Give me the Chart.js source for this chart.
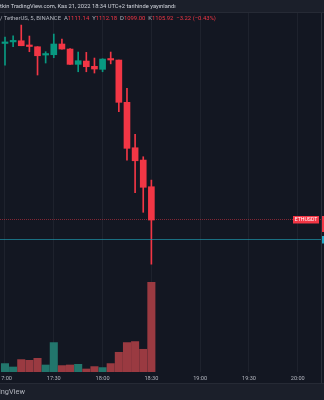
<!DOCTYPE html>
<html><head><meta charset="utf-8">
<script src="https://cdn.jsdelivr.net/npm/chart.js@4.4.1/dist/chart.umd.min.js"></script>
<style>
html,body{margin:0;padding:0;background:#131722;width:324px;height:400px;overflow:hidden;font-family:Roboto,'Open Sans',sans-serif;}
#topband{position:absolute;left:0;top:0;width:324px;height:12px;background:#1b1f2a;border-bottom:1px solid #262a35;}
#botband{position:absolute;left:0;top:383px;width:324px;height:17px;background:#1b1f2a;border-top:1px solid #262a35;}
#wrap{position:absolute;left:0;top:0;width:324px;height:400px;}
.t{position:absolute;white-space:nowrap;z-index:3;line-height:1;}
.r{color:#f23645;}
</style></head>
<body>
<div id="topband"></div>
<div id="botband"></div>
<div id="wrap"><canvas id="c" width="324" height="400"></canvas></div>
<div class="t" style="left:0;top:4px;font-size:5.75px;color:#d1d4dc">tkin TradingView.com, Kas 21, 2022 18:34 UTC+2 tarihinde yayınlandı</div>
<div class="t" style="left:0;top:16.3px;font-size:5.9px;color:#b2b5be">/ TetherUS, 5, BINANCE&nbsp;&nbsp;A<span class="r">1111.14</span>&nbsp;&nbsp;Y<span class="r">1112.18</span>&nbsp;&nbsp;D<span class="r">1099.00</span>&nbsp;&nbsp;K<span class="r">1105.92</span>&nbsp;&nbsp;<span class="r">−3.22 (−0.43%)</span></div>
<div class="t" style="right:299px;top:388px;font-size:7.4px;color:#b2b5be">TradingView</div>
<script>
// ---- data (ETHUSDT, 5 min, BINANCE) ----
const candleTimes = ['17:00','17:05','17:10','17:15','17:20','17:25','17:30','17:35','17:40','17:45',
                     '17:50','17:55','18:00','18:05','18:10','18:15','18:20','18:25','18:30'];
const opens  = [1133.60,1133.84,1134.02,1133.27,1133.08,1131.78,1131.83,1133.51,1132.72,1130.32,
                1130.84,1130.01,1129.54,1131.15,1131.00,1124.37,1117.25,1115.32,1111.14];
const highs  = [1134.60,1134.80,1136.48,1134.76,1133.10,1132.30,1135.07,1134.29,1132.80,1132.25,
                1132.20,1131.31,1131.20,1132.25,1131.00,1126.56,1119.35,1115.84,1112.18];
const lows   = [1130.20,1133.10,1133.24,1132.30,1128.65,1130.53,1131.36,1132.72,1130.30,1129.16,
                1129.16,1128.96,1129.16,1130.40,1122.89,1115.32,1110.20,1107.13,1099.00];
const closes = [1133.80,1134.02,1133.24,1133.12,1131.67,1131.98,1133.51,1132.72,1130.32,1130.89,
                1129.95,1129.59,1131.15,1131.00,1124.37,1117.16,1115.21,1111.05,1105.92];
const volumes = [3530,2100,5210,4910,5750,2940,12350,2690,2940,3230,
                 1260,2270,1850,3530,8270,12350,12770,9530,37670];
const tickLabels = ['17:00','17:30','18:00','18:30','19:00','19:30','20:00'];
const markerLevel = 1102.90;           // teal horizontal line
const symbolLabel = 'ETHUSDT';

// ---- view settings ----
const viewStart = -3.07, viewEnd = 194.3;   // minutes after 17:00
const priceMin = 1082.10, priceMax = 1138.37;

const toMin = s => { const [h,m] = s.split(':').map(Number); return (h-17)*60 + m; };
const xs = candleTimes.map(toMin);
const tickVals = tickLabels.map(toMin);
const UP = '#089981', DOWN = '#f23645';
const upVol = '#22766c', downVol = '#9a3a41';
const isUp = i => closes[i] >= opens[i];
const candleColors = xs.map((_,i) => isUp(i) ? UP : DOWN);
const volColors = xs.map((_,i) => isUp(i) ? upVol : downVol);

const overlay = {
  id: 'overlay',
  afterDatasetsDraw(chart) {
    const {ctx, chartArea: a, scales} = chart;
    const y = scales.y;
    ctx.save();
    // last price line (dotted red)
    const lp = Math.round(y.getPixelForValue(closes[closes.length-1])) - 0.5;
    ctx.strokeStyle = 'rgba(242,54,69,0.5)';
    ctx.lineWidth = 1;
    ctx.setLineDash([1,1]);
    ctx.beginPath(); ctx.moveTo(a.left, lp); ctx.lineTo(a.right, lp); ctx.stroke();
    // teal line
    const tp = Math.round(y.getPixelForValue(markerLevel)) + 0.5;
    ctx.setLineDash([]);
    ctx.strokeStyle = 'rgba(30,150,170,0.7)';
    ctx.beginPath(); ctx.moveTo(a.left, tp); ctx.lineTo(a.right, tp); ctx.stroke();
    // symbol label
    ctx.fillStyle = '#f23645';
    ctx.fillRect(a.right - 28, lp - 3.5, 26, 7.5);
    ctx.fillStyle = '#ffffff';
    ctx.font = '5.2px Roboto';
    ctx.textAlign = 'center'; ctx.textBaseline = 'middle';
    ctx.fillText(symbolLabel, a.right - 15, lp + 0.3);
    // price axis border
    ctx.fillStyle = '#2a2e39';
    ctx.fillRect(a.right, 13, 1, 370);
    // axis price tags (cut off)
    ctx.fillStyle = '#f23645';
    ctx.fillRect(a.right + 1, lp - 3.5, 3, 16);
    ctx.fillStyle = '#22a9c8';
    ctx.fillRect(a.right + 1, tp - 3.5, 3, 7.5);
    ctx.restore();
  }
};

new Chart(document.getElementById('c'), {
  type: 'bar',
  data: {
    datasets: [
      { label: 'body', data: xs.map((x,i) => ({x, y:[opens[i], closes[i]]})),
        backgroundColor: candleColors, barThickness: 6, minBarLength: 1.5, yAxisID: 'y', order: 0 },
      { label: 'wick', data: xs.map((x,i) => ({x, y:[lows[i], highs[i]]})),
        backgroundColor: candleColors, barThickness: 1, yAxisID: 'y', order: 1 },
      { label: 'volume', data: xs.map((x,i) => ({x, y: volumes[i]})),
        backgroundColor: volColors, barThickness: 7.4, yAxisID: 'yVol', order: 2 }
    ]
  },
  options: {
    responsive: false,
    animation: false,
    layout: { padding: { top: 13, right: 3, left: 0, bottom: 0 } },
    plugins: { legend: { display: false }, tooltip: { enabled: false } },
    datasets: { bar: { grouped: false, borderWidth: 0 } },
    scales: {
      x: {
        type: 'linear', min: viewStart, max: viewEnd, offset: false,
        grid: { offset: false, color: '#1e222d', drawTicks: false },
        border: { display: false },
        afterBuildTicks: s => { s.ticks = tickVals.map(v => ({value: v})); },
        afterFit: s => { s.height = 28; s.paddingLeft = 0; s.paddingRight = 0; },
        ticks: {
          autoSkip: false, maxRotation: 0, padding: 3,
          color: '#b2b5be', font: { family: 'Roboto', size: 5.6 },
          callback: (v) => tickLabels[tickVals.indexOf(v)] ?? ''
        }
      },
      y: { display: false, min: priceMin, max: priceMax },
      yVol: { display: false, min: 0, max: Math.max(...volumes) * 4.0 }
    }
  },
  plugins: [overlay]
});
</script>
</body></html>
